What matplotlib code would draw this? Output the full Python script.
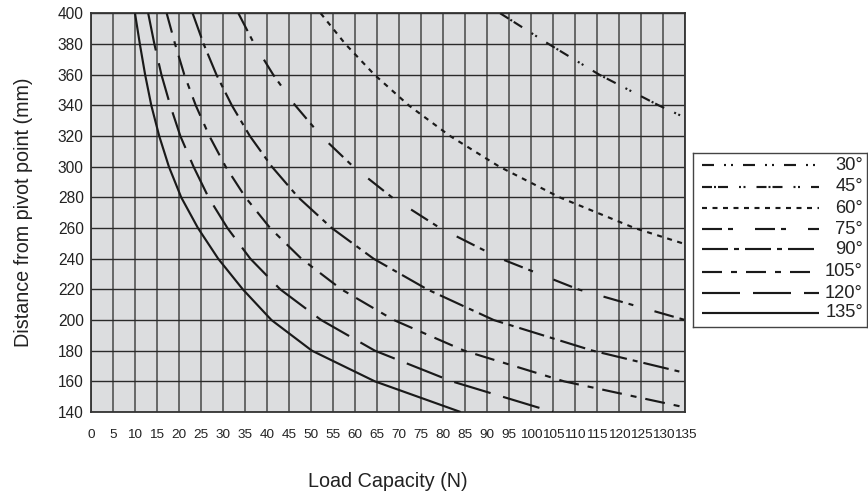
import matplotlib
matplotlib.use("Agg")
import matplotlib.pyplot as plt

plt.rcParams['font.family'] = ['Liberation Sans', 'DejaVu Sans']
plt.rcParams['lines.scale_dashes'] = False

# Load capacity (N) at each distance (mm)
dist_135 = [400, 380, 360, 340, 320, 300, 280, 260, 240, 220, 200, 180, 160, 140]
load_135 = [10, 11.1, 12.3, 13.7, 15.5, 17.7, 20.5, 24.3, 28.9, 34.5, 41.0, 50.2, 64.5, 84]

dist_120 = [400, 380, 360, 340, 320, 300, 280, 260, 240, 220, 200, 180, 160, 140]
load_120 = [13, 14.4, 16.0, 18.0, 20.3, 23.3, 26.7, 31.0, 36.2, 43.0, 52.3, 64.5, 82.0, 105]

dist_105 = [400, 380, 360, 340, 320, 300, 280, 260, 240, 220, 200, 180, 160, 143]
load_105 = [17.2, 19.1, 21.2, 23.8, 26.9, 30.6, 35.1, 40.7, 47.8, 56.9, 68.8, 84.8, 107.5, 135]

dist_90 = [400, 380, 360, 340, 320, 300, 280, 260, 240, 220, 200, 180, 165.5]
load_90 = [23.1, 25.6, 28.5, 32.0, 36.1, 41.1, 47.1, 54.7, 64.2, 76.4, 91.5, 114, 135]

dist_75 = [400, 380, 360, 340, 320, 300, 280, 260, 240, 220, 200]
load_75 = [33.5, 37.1, 41.4, 46.4, 52.3, 59.6, 68.4, 79.3, 93.1, 110.7, 135]

dist_60 = [400, 380, 360, 340, 320, 300, 280, 260, 249.5]
load_60 = [52.2, 57.8, 64.4, 72.2, 81.6, 92.8, 106.5, 123.5, 135]

dist_45 = [400, 380, 360, 340, 332]
load_45 = [93, 104, 115.5, 129, 135]

# 30 deg curve lies beyond the 135 N range of the chart
dist_30 = []
load_30 = []

angle_labels = ['30°', '45°', '60°', '75°', '90°', '105°', '120°', '135°']
x_ticks = list(range(0, 136, 5))
y_ticks = list(range(140, 401, 20))


def px(*vals):
    # dash lengths measured in pixels -> points
    return tuple(v * 0.72 for v in vals)


styles = {
    '30°': (0, px(12, 10, 2, 5, 2, 10)),
    '45°': (0, px(10, 2, 2, 2, 10, 11, 2, 2.5, 2, 11)),
    '60°': (0, px(5, 5.5)),
    '75°': (0, px(20, 6, 5, 22)),
    '90°': (0, px(26, 6, 5, 6)),
    '105°': (0, px(20, 9, 6, 9)),
    '120°': (0, px(38, 13)),
    '135°': '-',
}

series = {
    '30°': (load_30, dist_30),
    '45°': (load_45, dist_45),
    '60°': (load_60, dist_60),
    '75°': (load_75, dist_75),
    '90°': (load_90, dist_90),
    '105°': (load_105, dist_105),
    '120°': (load_120, dist_120),
    '135°': (load_135, dist_135),
}

W, H = 868, 497
fig = plt.figure(figsize=(W / 100, H / 100), dpi=100)
ax = fig.add_axes([91 / W, (H - 412) / H, 594 / W, 398.7 / H])
ax.set_facecolor('#dcdddf')

line_w = 1.55
for name in angle_labels:
    x, y = series[name]
    ax.plot(x, y, color='#1a1a1a', lw=line_w, linestyle=styles[name],
            dash_capstyle='butt', solid_capstyle='butt', clip_on=True, zorder=3)

ax.set_xlim(0, 135)
ax.set_ylim(140, 400)
ax.set_xticks(x_ticks)
ax.set_yticks(y_ticks)
ax.tick_params(axis='x', length=0, pad=12, labelsize=9.7, colors='#222222')
ax.tick_params(axis='y', length=0, pad=5.3, labelsize=11.2, colors='#222222')
ax.xaxis.grid(True, color='#4d4d4d', lw=1.15, zorder=1)
ax.yaxis.grid(True, color='#2a2a2a', lw=1.0, zorder=1)
ax.set_axisbelow(True)
for s in ax.spines.values():
    s.set_color('#333333')
    s.set_linewidth(1.3)

ax.set_xlabel('Load Capacity (N)', fontsize=14.2, color='#222222')
ax.set_ylabel('Distance from pivot point (mm)', fontsize=14.2, color='#222222')
ax.xaxis.set_label_coords(0.5, -0.15)
ax.yaxis.set_label_coords(-0.097, 0.5)

# legend box drawn in pixel units
lx0, lx1, ly0, ly1 = 693, 867, 152.7, 327.3
lax = fig.add_axes([lx0 / W, (H - ly1) / H, (lx1 - lx0) / W, (ly1 - ly0) / H])
lax.set_xlim(0, lx1 - lx0)
lax.set_ylim(ly1 - ly0, 0)
lax.set_xticks([])
lax.set_yticks([])
lax.set_facecolor('white')
for s in lax.spines.values():
    s.set_color('#444444')
    s.set_linewidth(1.0)

entry_y = [12.3, 34, 55.6, 76.3, 96.6, 119, 140.6, 160]
for name, yy in zip(angle_labels, entry_y):
    lax.plot([9, 126], [yy, yy], color='#1a1a1a', lw=line_w, linestyle=styles[name],
             dash_capstyle='butt', solid_capstyle='butt')
    lax.text(170, yy, name, ha='right', va='center', fontsize=13.2, color='#222222')

fig.savefig('out.png', dpi=100)
